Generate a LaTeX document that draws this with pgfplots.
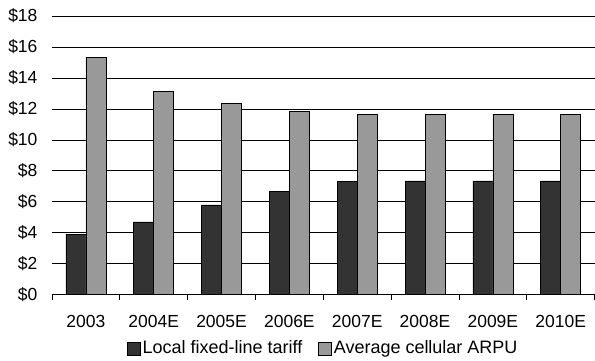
\documentclass[border=0pt]{standalone}
\usepackage{pgfplots}
\pgfplotsset{compat=1.18}
\usepackage{fontspec}
\setmainfont{Liberation Sans}
\definecolor{darkbar}{HTML}{333333}
\definecolor{lightbar}{HTML}{999999}
\begin{document}
\fontsize{17.5bp}{20bp}\selectfont
\begin{tikzpicture}
\begin{axis}[
  at={(0,0)}, anchor=south west,
  scale only axis, width=543bp, height=279bp,
  xmin=-0.5, xmax=7.5, ymin=0, ymax=18,
  ybar=0pt, bar width=20bp,
  axis x line*=bottom, axis y line*=left,
  x axis line style={-, black, line width=0.8bp},
  y axis line style={draw=none},
  xtick={0,...,7},
  xticklabels={2003,2004E,2005E,2006E,2007E,2008E,2009E,2010E},
  minor xtick={-0.5,0.5,...,7.5},
  major tick length=0pt,
  minor tick length=5bp,
  tick align=outside,
  minor tick style={black, line width=0.8bp},
  ytick={0,2,...,18},
  yticklabels={\$0,\$2,\$4,\$6,\$8,\$10,\$12,\$14,\$16,\$18},
  ymajorgrids, grid style={black, line width=0.8bp},
  yticklabel style={xshift=-8.5bp},
  xticklabel style={yshift=-14.5bp},
  tick label style={font=\fontsize{17.5bp}{20bp}\selectfont},
  legend style={draw=none, at={(0.5,-0.1935)}, anchor=center,
    font=\fontsize{18bp}{21bp}\selectfont,
    /tikz/every even column/.append style={column sep=14bp}},
  legend columns=2,
]
\addplot[fill=darkbar, draw=black, line width=0.6bp,
  legend image code/.code={\draw[fill=darkbar, draw=black, line width=0.6bp] (0bp,-6.5bp) rectangle (13bp,6.5bp);}]
  coordinates {(0,3.9) (1,4.7) (2,5.8) (3,6.7) (4,7.3) (5,7.35) (6,7.35) (7,7.35)};
\addplot[fill=lightbar, draw=black, line width=0.6bp,
  legend image code/.code={\draw[fill=lightbar, draw=black, line width=0.6bp] (0bp,-6.5bp) rectangle (13bp,6.5bp);}]
  coordinates {(0,15.35) (1,13.15) (2,12.37) (3,11.83) (4,11.66) (5,11.66) (6,11.66) (7,11.66)};
\legend{Local fixed-line tariff, Average cellular ARPU}
\end{axis}
\path (-52bp,-63bp) rectangle (543bp,295bp);
\end{tikzpicture}
\end{document}
